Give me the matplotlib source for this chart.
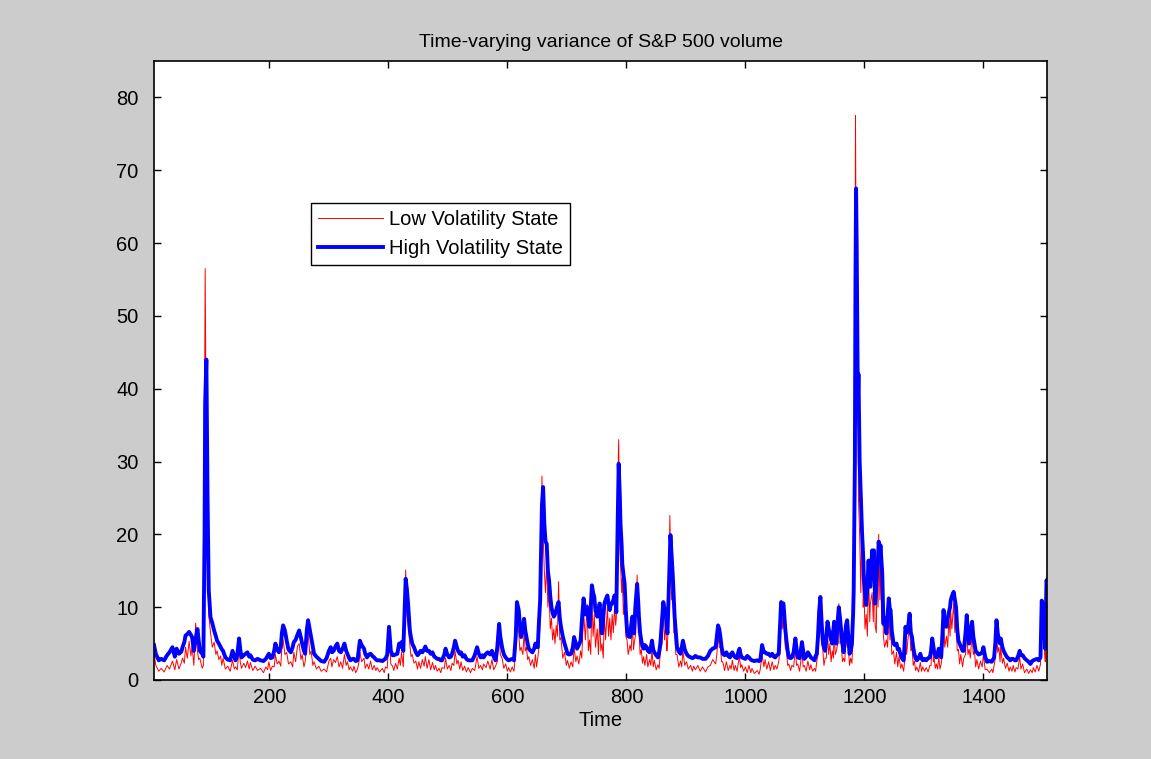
import numpy as np
import matplotlib
matplotlib.use("Agg")
import matplotlib.pyplot as plt

plt.rcParams['font.family'] = ['Liberation Sans', 'DejaVu Sans']

# time index of the readings
time = [
    6, 9, 14, 18, 23, 28, 32, 37, 41, 44,
    48, 52, 54, 57, 59, 62, 65, 68, 70, 73,
    76, 79, 81, 83, 87, 89, 91, 92, 94, 96,
    98, 101, 104, 107, 110, 112, 115, 118, 120, 122,
    126, 130, 134, 138, 141, 143, 146, 149, 151, 153,
    157, 160, 163, 166, 168, 172, 176, 180, 185, 190,
    194, 197, 199, 202, 205, 208, 210, 213, 216, 219,
    221, 223, 226, 229, 232, 236, 239, 241, 244, 247,
    250, 253, 255, 258, 260, 263, 265, 268, 270, 273,
    275, 279, 283, 287, 292, 296, 300, 303, 305, 308,
    311, 314, 317, 320, 323, 326, 329, 331, 334, 336,
    340, 342, 345, 348, 350, 352, 355, 359, 361, 364,
    367, 370, 373, 376, 379, 381, 385, 390, 393, 395,
    398, 400, 401, 404, 407, 409, 412, 415, 418, 420,
    422, 425, 427, 429, 431, 433, 436, 438, 440, 443,
    446, 449, 451, 454, 457, 460, 462, 465, 468, 471,
    474, 477, 479, 482, 485, 488, 490, 494, 496, 499,
    502, 505, 507, 510, 512, 515, 517, 520, 522, 525,
    528, 531, 534, 538, 541, 545, 549, 552, 555, 558,
    560, 564, 567, 571, 574, 577, 580, 583, 586, 588,
    591, 594, 597, 600, 602, 605, 608, 611, 614,
    616, 619, 621, 623, 626, 628, 630, 632, 634, 636,
    639, 642, 645, 647, 649, 651, 653, 655, 657, 658,
    660, 662, 664, 666, 668, 670, 672, 674, 676, 678,
    680, 682, 684, 686, 688, 690, 693, 696, 699, 701,
    704, 707, 710, 712, 715, 717, 720, 723, 725, 728,
    731, 734, 736, 738, 740, 742, 744, 746, 748, 751,
    753, 755, 757, 759, 761, 763, 765, 768, 770, 772,
    774, 776, 778, 780, 782, 783, 785, 787, 789, 790,
    792, 793, 795, 797, 799, 801, 803, 806, 808, 810,
    812, 813, 815, 818, 820, 821, 823, 825, 827, 829,
    831, 834, 836, 839, 841, 843, 845, 847, 850, 853,
    855, 857, 860, 862, 864, 866, 868, 869, 871, 873,
    874, 876, 878, 880, 881, 883, 885, 888, 891, 893,
    895, 898, 901, 904, 908, 911, 913,
    916, 920, 924, 928, 933, 937, 941, 945, 950, 952,
    954, 956, 958, 960, 962, 965, 968, 971, 974, 976,
    978, 981, 983, 986, 988, 990, 992, 994, 997, 1000,
    1003, 1006, 1009, 1011, 1015, 1020, 1023, 1025, 1028, 1031,
    1033, 1036, 1039, 1042, 1045, 1048, 1050, 1053, 1056, 1058,
    1060, 1062, 1064, 1067, 1069, 1071, 1073, 1076, 1078, 1081,
    1084, 1086, 1088, 1091, 1093, 1095, 1097, 1099, 1102, 1105,
    1108, 1110, 1113, 1116, 1118, 1120, 1122, 1124, 1126, 1128,
    1130, 1132, 1134, 1136, 1138, 1140, 1142, 1144, 1146, 1148,
    1149, 1151, 1153, 1155, 1157, 1159, 1161, 1163, 1165, 1167,
    1169, 1171, 1173, 1175, 1177, 1179, 1181, 1182, 1184, 1185,
    1186, 1187, 1189, 1190, 1192, 1194, 1196, 1198, 1199, 1201,
    1203, 1205, 1207, 1209, 1210,
    1213, 1215, 1216, 1218, 1220, 1221, 1223, 1224, 1226, 1227,
    1229, 1230, 1232, 1234, 1237, 1239, 1241, 1243, 1244, 1246,
    1249, 1251, 1254, 1256, 1258, 1261, 1263, 1266, 1268, 1269,
    1271, 1273, 1276, 1278, 1280, 1282, 1284, 1286, 1288, 1291,
    1294, 1296, 1298, 1301, 1304, 1307, 1310, 1312, 1314, 1316,
    1317, 1319, 1321, 1323, 1325, 1327, 1329, 1331, 1333, 1335,
    1338, 1340, 1342, 1344, 1345, 1347, 1350, 1352, 1354, 1356,
    1358, 1360, 1362, 1365, 1367, 1370, 1372, 1374, 1376, 1378,
    1381, 1383, 1385, 1387, 1389, 1392, 1395, 1398, 1400, 1403,
    1406, 1410, 1414, 1416, 1418, 1420, 1422, 1424, 1426, 1428,
    1429, 1432, 1434, 1437, 1440, 1443, 1445, 1448, 1450, 1453,
    1455, 1458, 1461, 1463, 1466, 1469, 1473, 1476, 1479, 1482,
    1484, 1487, 1490, 1493, 1496, 1498, 1499, 1501, 1503, 1504,
    1506, 1507,
]

# high volatility state variance (thick blue)
high_vol = [
    4.8, 3.6, 2.7, 2.9, 2.7, 3.4, 3.8, 4.5, 3.2, 4.3,
    3.6, 3.9, 4.5, 5.2, 6.1, 6.3, 6.6, 6.2, 5.9, 4.0,
    5.6, 7.0, 5.5, 4.0, 3.6, 3.2, 20.0, 38.0, 44.0, 25.0,
    12.3, 8.6, 7.8, 6.8, 6.0, 5.4, 5.0, 4.5, 4.2, 4.0,
    3.1, 2.8, 2.7, 4.0, 3.2, 2.7, 3.5, 5.7, 4.2, 3.1,
    3.4, 3.6, 3.8, 3.2, 3.4, 2.8, 2.7, 2.9, 2.7, 2.6,
    2.9, 3.3, 3.6, 3.0, 3.1, 4.0, 5.0, 4.2, 3.8, 4.5,
    6.5, 7.5, 6.8, 5.4, 4.2, 3.8, 4.5, 5.2, 5.5, 6.2,
    6.8, 5.8, 5.0, 4.0, 3.6, 7.0, 8.2, 6.8, 5.9, 4.5,
    3.6, 3.2, 2.9, 2.6, 2.5, 3.0, 4.0, 4.5, 3.8, 4.0,
    4.6, 5.0, 4.0, 3.8, 4.3, 5.0, 4.0, 3.6, 3.0, 2.7,
    2.9, 2.9, 2.6, 2.7, 4.0, 5.4, 4.8, 4.3, 3.6, 3.1,
    3.5, 3.6, 3.3, 3.1, 2.8, 2.7, 2.7, 2.6, 2.8, 2.9,
    3.5, 6.0, 7.3, 4.0, 3.4, 3.4, 3.5, 3.6, 5.0, 4.6,
    5.2, 4.0, 9.0, 13.9, 12.5, 10.5, 6.8, 5.8, 5.0, 4.5,
    3.8, 3.4, 3.6, 4.0, 3.8, 4.2, 4.6, 4.0, 4.0, 3.6,
    3.8, 3.2, 3.1, 2.9, 2.9, 2.7, 2.7, 3.5, 4.3, 3.5,
    3.1, 3.2, 3.6, 4.5, 5.4, 4.5, 4.0, 3.6, 3.8, 3.2,
    3.4, 2.9, 2.7, 2.7, 2.7, 3.4, 4.5, 3.6, 3.1, 3.4,
    3.1, 3.6, 3.8, 3.5, 4.0, 3.2, 2.7, 4.5, 7.7, 6.0,
    4.5, 3.5, 3.1, 2.8, 2.7, 2.8, 2.9, 2.7, 6.0,
    10.7, 9.6, 7.5, 5.9, 7.0, 8.4, 6.8, 5.9, 5.0, 4.3,
    4.0, 3.8, 4.3, 5.0, 4.6, 4.5, 8.0, 10.9, 20.0, 24.0,
    26.5, 21.5, 19.0, 18.7, 15.0, 13.7, 11.5, 10.0, 9.2, 8.7,
    9.0, 9.6, 10.2, 10.7, 8.5, 7.3, 6.0, 5.0, 4.2, 3.6,
    3.5, 3.6, 4.5, 5.9, 5.0, 4.3, 4.8, 5.4, 8.0, 11.2,
    9.0, 10.0, 8.5, 7.3, 10.0, 13.0, 12.0, 11.4, 9.5, 8.7,
    9.5, 10.5, 8.0, 6.4, 8.5, 10.5, 11.0, 11.6, 10.5, 9.6,
    10.5, 10.5, 11.0, 11.6, 10.5, 9.3, 20.0, 29.7, 25.0, 21.5,
    18.5, 16.0, 14.5, 13.2, 9.5, 6.8, 6.0, 5.9, 7.5, 8.7,
    7.0, 6.4, 10.0, 13.2, 10.5, 8.7, 6.5, 5.4, 4.6, 4.3,
    4.8, 4.5, 4.0, 3.8, 4.5, 5.4, 4.2, 3.8, 3.4, 3.1,
    3.8, 5.0, 8.5, 10.7, 9.8, 9.1, 7.0, 6.4, 12.0, 18.0,
    19.9, 17.0, 14.2, 10.5, 8.7, 6.5, 4.5, 3.9, 3.6, 4.5,
    5.4, 4.2, 3.6, 3.3, 3.1, 3.0, 3.1,
    3.3, 3.1, 3.1, 2.9, 2.9, 3.3, 4.0, 4.3, 4.5, 6.0,
    7.5, 7.0, 5.9, 4.5, 3.6, 3.4, 3.8, 3.3, 3.1, 3.6,
    3.8, 3.3, 3.1, 3.0, 3.8, 4.3, 3.5, 3.1, 3.0, 2.9,
    3.3, 3.1, 2.8, 2.7, 2.6, 2.7, 2.6, 2.7, 4.8, 3.8,
    3.8, 3.6, 3.6, 3.3, 3.6, 3.2, 3.1, 3.4, 3.6, 7.0,
    10.7, 10.5, 10.5, 7.0, 5.4, 4.0, 3.1, 3.0, 3.1, 3.8,
    5.7, 4.2, 3.1, 3.0, 4.0, 5.2, 4.0, 2.9, 3.2, 3.8,
    3.4, 3.1, 2.9, 2.7, 3.3, 3.6, 6.0, 9.5, 11.4, 8.0,
    5.4, 4.5, 4.0, 6.0, 8.0, 7.0, 6.4, 5.5, 5.0, 7.0,
    8.0, 6.5, 5.0, 8.0, 10.0, 8.5, 6.8, 5.0, 3.8, 5.5,
    7.5, 8.2, 6.0, 3.6, 4.0, 5.0, 9.0, 12.3, 30.0, 55.0,
    67.5, 60.0, 38.0, 42.0, 30.0, 25.0, 20.3, 16.9, 14.0, 12.0,
    10.3, 13.0, 16.4, 13.0, 12.8,
    17.8, 14.0, 17.8, 10.5, 13.0, 14.6, 17.0, 19.0, 17.0, 18.5,
    16.0, 14.6, 7.7, 8.5, 6.4, 9.0, 11.2, 9.5, 9.6, 6.8,
    5.0, 4.8, 5.0, 4.2, 4.3, 3.4, 3.0, 2.7, 5.5, 7.3,
    6.5, 7.0, 9.1, 6.5, 5.9, 4.5, 3.6, 3.0, 2.7, 3.0,
    3.6, 3.0, 2.7, 2.9, 2.7, 3.0, 3.1, 4.0, 5.7, 4.5,
    4.0, 3.4, 3.1, 3.6, 4.3, 3.5, 3.1, 6.0, 9.6, 7.5,
    7.3, 8.5, 9.3, 10.0, 10.9, 11.5, 12.1, 11.0, 10.0, 7.0,
    5.4, 5.0, 4.6, 4.0, 4.0, 6.5, 8.9, 6.5, 5.0, 6.5,
    8.0, 6.0, 5.0, 4.0, 3.8, 3.5, 3.6, 3.8, 4.5, 3.2,
    2.5, 2.6, 2.5, 2.8, 3.1, 5.0, 8.2, 6.5, 5.4, 5.0,
    5.7, 4.5, 4.0, 3.5, 3.1, 2.9, 2.7, 2.9, 2.9, 2.7,
    2.7, 3.2, 4.0, 3.4, 3.4, 3.0, 2.7, 2.5, 2.2, 2.6,
    2.7, 2.8, 2.9, 2.7, 3.1, 10.9, 10.5, 9.6, 6.0, 4.3,
    13.7, 13.5,
]

# low volatility state variance (thin red)
low_vol = [
    3.8, 2.0, 1.2, 1.6, 1.1, 2.0, 1.5, 2.6, 1.4, 2.8,
    1.5, 2.4, 3.0, 2.3, 4.5, 3.0, 5.3, 3.3, 4.6, 2.0,
    7.8, 4.0, 2.8, 3.0, 1.6, 2.0, 40.0, 56.5, 30.0, 18.0,
    9.0, 6.5, 4.5, 5.2, 3.5, 4.0, 2.8, 3.3, 2.0, 3.0,
    1.5, 1.9, 1.2, 2.7, 1.5, 1.8, 1.4, 4.3, 2.5, 1.6,
    2.3, 1.7, 2.6, 1.5, 2.4, 1.3, 1.9, 1.3, 1.6, 1.0,
    1.8, 1.4, 2.5, 1.3, 1.9, 1.8, 3.5, 2.2, 2.6, 1.9,
    4.5, 5.5, 3.5, 3.8, 2.2, 2.5, 1.8, 3.8, 2.5, 4.6,
    5.0, 2.8, 3.5, 1.8, 2.5, 5.0, 6.2, 3.5, 4.0, 2.0,
    2.5, 1.5, 1.9, 1.2, 1.5, 1.1, 2.6, 3.0, 1.8, 2.8,
    2.4, 3.2, 1.8, 2.5, 1.6, 3.5, 2.0, 2.5, 1.4, 1.8,
    1.2, 1.9, 1.0, 1.5, 2.2, 3.8, 2.5, 3.0, 1.6, 2.2,
    1.5, 2.6, 1.4, 2.0, 1.3, 1.7, 1.1, 1.6, 1.0, 1.8,
    1.6, 4.5, 7.0, 2.2, 1.9, 1.3, 2.3, 1.5, 3.0, 2.0,
    3.8, 1.8, 7.0, 15.1, 9.0, 7.5, 5.0, 3.2, 3.5, 2.3,
    2.6, 1.5, 2.5, 1.6, 2.8, 1.9, 3.2, 1.6, 2.8, 1.4,
    2.4, 1.4, 2.0, 1.2, 1.6, 1.0, 1.7, 1.6, 3.0, 1.5,
    2.0, 1.3, 2.3, 2.0, 4.0, 2.2, 2.7, 1.5, 2.5, 1.3,
    1.9, 1.1, 1.7, 1.0, 1.6, 1.3, 3.2, 1.6, 2.0, 1.4,
    2.2, 1.7, 2.6, 1.5, 2.8, 1.4, 1.9, 2.5, 6.5, 3.5,
    3.0, 1.6, 2.2, 1.2, 1.7, 1.1, 1.8, 1.2, 4.0,
    8.0, 6.5, 4.0, 4.5, 3.5, 6.5, 4.0, 4.5, 2.8, 3.2,
    2.0, 2.8, 1.6, 3.5, 1.8, 3.0, 4.5, 8.5, 18.0, 28.0,
    20.0, 15.0, 12.0, 16.0, 10.0, 12.0, 7.0, 8.5, 5.5, 7.0,
    5.0, 7.5, 6.0, 13.5, 5.5, 5.8, 3.0, 3.8, 2.0, 2.7,
    1.6, 2.5, 1.8, 4.5, 2.5, 3.3, 2.2, 4.0, 3.0, 9.5,
    5.5, 10.4, 4.0, 5.5, 3.5, 11.0, 6.0, 9.0, 4.5, 7.0,
    3.5, 8.5, 4.0, 5.0, 3.0, 9.0, 5.5, 10.0, 6.0, 8.5,
    5.5, 9.0, 6.5, 10.0, 7.5, 8.5, 25.0, 33.0, 18.0, 16.0,
    12.0, 14.0, 9.0, 11.0, 6.0, 5.5, 3.5, 4.8, 4.0, 7.5,
    4.2, 5.0, 6.0, 14.4, 6.5, 7.0, 3.5, 4.2, 2.3, 3.2,
    2.0, 3.5, 1.8, 2.8, 2.0, 4.2, 1.8, 2.7, 1.4, 2.1,
    1.6, 3.8, 5.0, 9.5, 5.5, 7.5, 4.0, 5.0, 9.0, 22.6,
    18.0, 11.0, 12.5, 6.5, 7.0, 3.5, 3.5, 1.8, 2.6, 1.8,
    4.0, 2.0, 2.5, 1.5, 2.0, 1.2, 1.9,
    1.4, 2.0, 1.2, 1.8, 1.1, 1.8, 2.0, 2.8, 2.2, 3.5,
    6.0, 4.5, 4.5, 2.5, 2.5, 1.3, 2.5, 1.3, 2.0, 1.5,
    2.7, 1.3, 2.0, 1.2, 2.3, 3.2, 1.7, 2.1, 1.2, 1.8,
    1.0, 2.0, 1.0, 1.6, 0.9, 1.3, 0.8, 1.5, 3.5, 1.8,
    2.8, 1.5, 2.5, 1.3, 2.5, 1.4, 2.0, 1.5, 2.5, 4.0,
    10.4, 7.0, 9.0, 4.5, 4.0, 2.0, 2.2, 1.3, 2.0, 1.8,
    4.2, 2.0, 2.2, 1.2, 2.5, 4.0, 1.8, 2.0, 1.2, 2.6,
    1.4, 2.1, 1.2, 1.6, 1.2, 2.6, 3.5, 7.0, 11.4, 5.0,
    4.2, 2.0, 3.0, 3.0, 6.5, 3.5, 5.0, 2.5, 4.0, 3.0,
    7.0, 3.5, 4.0, 5.0, 10.5, 5.0, 5.5, 2.5, 3.0, 2.5,
    6.0, 4.5, 4.5, 2.0, 3.0, 2.3, 6.0, 10.0, 45.0, 77.5,
    60.0, 35.0, 46.0, 25.0, 20.0, 12.0, 25.0, 10.0, 13.0, 7.0,
    9.0, 6.0, 15.0, 8.0, 10.5,
    12.0, 8.0, 17.0, 7.5, 6.5, 14.0, 10.0, 20.0, 11.0, 17.0,
    8.0, 13.0, 6.0, 4.5, 5.5, 4.5, 10.0, 5.5, 8.5, 3.5,
    4.0, 2.2, 3.8, 1.8, 3.2, 1.6, 2.2, 1.2, 3.0, 6.0,
    3.5, 5.5, 7.5, 4.0, 4.5, 2.0, 2.6, 1.3, 1.8, 1.1,
    2.4, 1.2, 1.8, 1.2, 1.7, 1.1, 2.0, 2.0, 5.5, 2.5,
    3.2, 1.6, 2.2, 1.5, 3.2, 1.5, 2.2, 3.5, 9.0, 4.5,
    6.0, 4.5, 8.5, 6.0, 9.5, 7.0, 10.5, 6.5, 8.5, 4.0,
    4.2, 2.2, 3.5, 1.8, 3.0, 3.5, 7.5, 3.5, 4.2, 3.0,
    6.5, 3.5, 4.0, 1.8, 2.8, 1.5, 2.6, 1.8, 3.5, 1.4,
    1.5, 1.0, 1.5, 1.0, 2.0, 3.0, 7.5, 3.8, 4.5, 2.5,
    4.5, 2.3, 3.0, 1.6, 2.3, 1.2, 1.8, 1.2, 2.0, 1.1,
    1.7, 1.5, 3.2, 1.5, 2.2, 1.0, 1.5, 0.9, 1.4, 1.0,
    1.7, 1.1, 2.0, 1.2, 2.2, 8.0, 10.8, 7.0, 3.5, 2.5,
    10.0, 14.5,
]

fig = plt.figure(figsize=(11.51, 7.59), dpi=100, facecolor='#cccccc')
ax = fig.add_axes([0.1338, 0.1041, 0.7759, 0.8155])

ax.plot(time, low_vol, color='red', lw=0.7, label='Low Volatility State')
ax.plot(time, high_vol, color='blue', lw=2.8, label='High Volatility State')

ax.set_xlim(6, 1507)
ax.set_ylim(0, 85)
ax.set_xticks(np.arange(200, 1401, 200))
ax.set_yticks(np.arange(0, 81, 10))
ax.tick_params(direction='in', length=5, width=1, top=True, right=True,
               labelsize=14.5, colors='k')
ax.tick_params(axis='y', pad=11)
ax.tick_params(axis='x', pad=6)
for s in ax.spines.values():
    s.set_linewidth(1.2)

ax.set_title('Time-varying variance of S&P 500 volume', fontsize=14, pad=10)
ax.set_xlabel('Time', fontsize=14.5, labelpad=3)

leg = ax.legend(loc='upper left', bbox_to_anchor=(0.176, 0.7706), borderaxespad=0,
                fontsize=14.5, handlelength=3.2, fancybox=False, framealpha=1,
                edgecolor='k', labelspacing=0.5, borderpad=0.35, handletextpad=0.3)
leg.get_frame().set_linewidth(1.0)

plt.savefig('out.png', dpi=100, facecolor=fig.get_facecolor())
